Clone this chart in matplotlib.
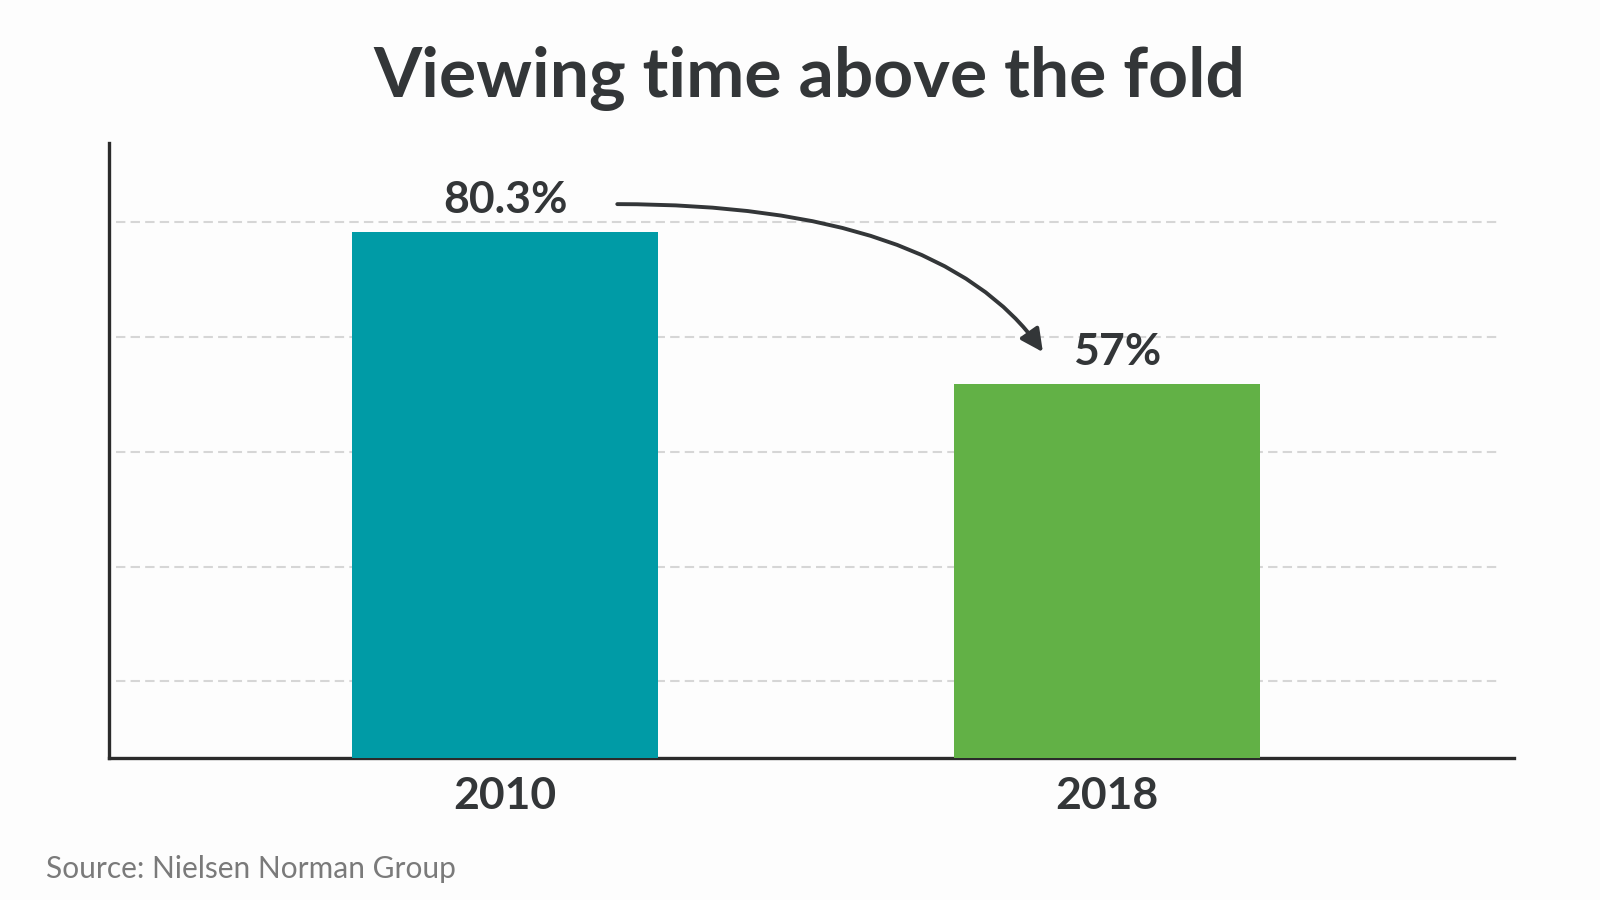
import matplotlib.pyplot as plt
from matplotlib.patches import FancyArrowPatch

plt.rcParams['font.family'] = ['Lato', 'DejaVu Sans']

years = ['2010', '2018']
share_above_fold = [80.3, 57.0]
value_labels = ['80.3%', '57%']
bar_colors = ['#009ba6', '#62b146']
grid_levels = [11.7, 29.2, 46.7, 64.3, 81.7]

title = 'Viewing time above the fold'
source = 'Source: Nielsen Norman Group'

dark = '#333638'

fig = plt.figure(figsize=(16, 9), dpi=100)
fig.patch.set_facecolor('#fdfdfd')
ax = fig.add_axes([0.0682, 0.1576, 0.878, 0.6837])
ax.set_facecolor('#fdfdfd')

x = range(len(years))
bars = ax.bar(x, share_above_fold, width=0.508, color=bar_colors, zorder=3)

# dashed guide lines behind the bars
for lvl in grid_levels:
    ax.axhline(lvl, xmin=0.005, xmax=0.991, color='#d6d6d6', lw=1.5,
               linestyle=(0, (4.5, 2.5)), zorder=1)

ax.set_xlim(-0.658, 1.676)
ax.set_ylim(0, 93.84)

ax.set_xticks(list(x))
ax.set_xticklabels(years, fontsize=32, fontweight='bold', color=dark)
ax.tick_params(axis='x', length=0, pad=13)
ax.set_yticks([])

for side in ['top', 'right']:
    ax.spines[side].set_visible(False)
for side in ['left', 'bottom']:
    ax.spines[side].set_color('#2b2b2b')
    ax.spines[side].set_linewidth(2.4)

label_dx = [0, 7]
for bar, lab, dx in zip(bars, value_labels, label_dx):
    ax.annotate(lab, (bar.get_x() + bar.get_width() / 2, bar.get_height()),
                xytext=(dx, 23), textcoords='offset points',
                ha='center', va='center', fontsize=32, fontweight='bold',
                color=dark)

# curved arrow from the 2010 label down to the 2018 label
arrow = FancyArrowPatch((0.3858, 0.7732), (0.6518, 0.6088),
                        transform=fig.transFigure,
                        connectionstyle='angle3,angleA=0,angleB=-55',
                        arrowstyle='-|>', mutation_scale=34,
                        shrinkA=0, shrinkB=0,
                        color=dark, lw=2.8, zorder=5)
fig.patches.append(arrow)

fig.text(0.506, 0.913, title, ha='center', va='center', fontsize=50,
         fontweight='bold', color=dark)
fig.text(0.0287, 0.034, source, ha='left', va='center', fontsize=21.5,
         color='#7a7a7a')

fig.savefig('out.png', dpi=100, facecolor=fig.get_facecolor())
